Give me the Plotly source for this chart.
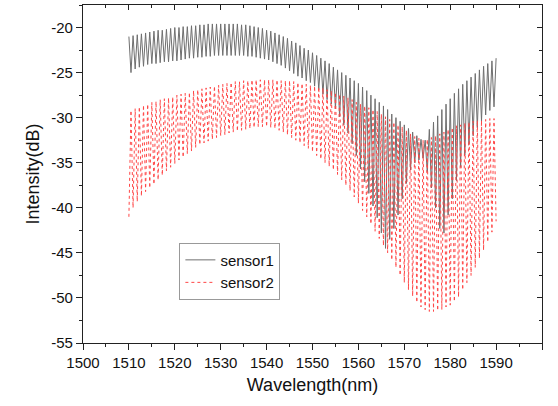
import numpy as np
import plotly.graph_objects as go

# ---------------- data ----------------
wl_start, wl_end = 1510, 1590

# sensor1: fringe maxima (89) and minima (88), alternating, starting with a maximum
s1_peaks = [
    -21.0, -20.9, -20.8, -20.7, -20.6, -20.5, -20.4, -20.3, -20.3, -20.2,
    -20.1, -20.0, -20.0, -19.9, -19.9, -19.8, -19.8, -19.7, -19.7, -19.6,
    -19.6, -19.6, -19.6, -19.6, -19.6, -19.6, -19.6, -19.7, -19.7, -19.8,
    -19.9, -20.0, -20.1, -20.3, -20.4, -20.6, -20.8, -21.0, -21.2, -21.5,
    -21.7, -22.0, -22.3, -22.5, -22.8, -23.1, -23.4, -23.7, -24.0, -24.4,
    -24.7, -25.0, -25.3, -25.6, -25.9, -26.2, -26.6, -27.0, -27.5, -27.9,
    -28.3, -28.7, -29.1, -29.6, -30.0, -30.4, -30.8, -31.2, -31.6, -32.0,
    -32.4, -32.5, -31.3, -30.5, -29.8, -29.1, -28.5, -27.9, -27.3, -26.8,
    -26.3, -25.9, -25.5, -25.1, -24.7, -24.3, -24.0, -23.7, -23.4,
]
s1_troughs = [
    -25.0, -24.6, -24.4, -24.3, -24.1, -24.0, -24.0, -23.9, -23.8, -23.8,
    -23.7, -23.7, -23.6, -23.5, -23.4, -23.4, -23.3, -23.3, -23.2, -23.2,
    -23.1, -23.1, -23.1, -23.1, -23.1, -23.1, -23.1, -23.1, -23.2, -23.2,
    -23.3, -23.4, -23.5, -23.6, -23.8, -24.0, -24.2, -24.5, -24.8, -25.1,
    -25.4, -25.6, -25.9, -26.1, -26.5, -26.9, -27.4, -28.0, -28.5, -29.0,
    -29.9, -30.8, -31.7, -32.9, -34.2, -35.7, -37.1, -38.4, -39.8, -41.1,
    -42.8, -44.5, -43.5, -42.3, -40.8, -39.0, -37.3, -35.8, -35.0, -34.7,
    -34.5, -36.0, -37.8, -40.0, -42.3, -42.8, -40.8, -39.0, -37.0, -35.5,
    -34.2, -33.0, -32.0, -31.1, -30.4, -29.7, -29.2, -28.8,
]

# sensor2: fringe minima (89) and maxima (88), alternating, starting with a minimum
s2_troughs = [
    -41.0, -40.0, -39.3, -38.7, -38.2, -37.8, -37.4, -36.9, -36.4, -35.9,
    -35.5, -35.1, -34.7, -34.4, -34.0, -33.7, -33.3, -33.0, -32.8, -32.6,
    -32.4, -32.2, -32.0, -31.9, -31.7, -31.6, -31.5, -31.4, -31.3, -31.2,
    -31.1, -31.0, -31.0, -31.0, -31.1, -31.2, -31.4, -31.6, -31.9, -32.2,
    -32.5, -32.8, -33.1, -33.4, -33.8, -34.2, -34.6, -35.0, -35.4, -35.8,
    -36.3, -36.9, -37.5, -38.1, -38.8, -39.5, -40.3, -41.0, -41.8, -42.6,
    -43.4, -44.2, -45.0, -45.8, -46.6, -47.5, -48.3, -49.1, -49.8, -50.5,
    -51.0, -51.3, -51.5, -51.5, -51.4, -51.3, -51.0, -50.8, -50.4, -49.9,
    -49.1, -48.3, -47.5, -46.6, -45.6, -44.7, -43.8, -42.7, -41.5,
]
s2_peaks = [
    -29.2, -29.0, -28.8, -28.6, -28.5, -28.3, -28.2, -28.0, -27.9, -27.8,
    -27.7, -27.5, -27.4, -27.3, -27.2, -27.0, -26.9, -26.8, -26.7, -26.6,
    -26.5, -26.4, -26.3, -26.2, -26.1, -26.0, -26.0, -25.9, -25.9, -25.8,
    -25.8, -25.8, -25.8, -25.8, -25.8, -25.8, -25.9, -25.9, -25.9, -26.0,
    -26.1, -26.2, -26.3, -26.4, -26.5, -26.6, -26.7, -26.9, -27.0, -27.2,
    -27.4, -27.6, -27.8, -28.0, -28.3, -28.5, -28.7, -28.9, -29.1, -29.3,
    -29.6, -29.9, -30.2, -30.5, -30.8, -31.0, -31.4, -31.8, -32.1, -32.3,
    -32.5, -32.4, -32.2, -32.0, -31.8, -31.6, -31.3, -31.1, -30.9, -30.8,
    -30.6, -30.5, -30.4, -30.3, -30.3, -30.2, -30.1, -30.1,
]

x_ticks = [1500, 1510, 1520, 1530, 1540, 1550, 1560, 1570, 1580, 1590, 1600]
y_ticks = [-55, -50, -45, -40, -35, -30, -25, -20]
y_labels = ["-55", "-50", "-45", "-40", "-35", "-30", "-25", "-20"]


def interleave(first, second):
    out = []
    for i in range(len(first)):
        out.append(first[i])
        if i < len(second):
            out.append(second[i])
    return out


s1_y = interleave(s1_peaks, s1_troughs)
s2_y = interleave(s2_troughs, s2_peaks)
s1_x = np.linspace(wl_start, wl_end, len(s1_y))
s2_x = np.linspace(wl_start, wl_end, len(s2_y))

# ---------------- figure ----------------
FONT = "Liberation Sans, Arial, sans-serif"
fig = go.Figure()
fig.add_trace(go.Scatter(x=s1_x, y=s1_y, mode="lines", name="sensor1",
                         line=dict(color="#6f6f6f", width=1)))
fig.add_trace(go.Scatter(x=s2_x, y=s2_y, mode="lines", name="sensor2",
                         line=dict(color="rgb(255,70,70)", width=1, dash="dot")))
# carrier for the mirrored (top/right) inward tick axes
fig.add_trace(go.Scatter(x=[1500], y=[-55], xaxis="x2", yaxis="y2", mode="markers",
                         marker=dict(opacity=0), showlegend=False, hoverinfo="skip"))

axis_common = dict(showgrid=False, zeroline=False, showline=True, linecolor="#222",
                   linewidth=1.2, tickcolor="#222")
fig.update_layout(
    width=558, height=406,
    margin=dict(l=83, r=16, t=5, b=63),
    paper_bgcolor="white", plot_bgcolor="white",
    font=dict(family=FONT, size=15, color="#111"),
    xaxis=dict(range=[1500, 1600], tickvals=x_ticks, ticks="outside", ticklen=6,
               minor=dict(dtick=5, tick0=1500, ticks="outside", ticklen=3, tickcolor="#222"),
               title=dict(text="Wavelength(nm)", font=dict(size=18), standoff=8),
               **axis_common),
    yaxis=dict(range=[-55, -17.5], tickvals=y_ticks, ticktext=y_labels, ticks="outside",
               ticklen=6,
               minor=dict(dtick=2.5, tick0=-55, ticks="outside", ticklen=3, tickcolor="#222"),
               title=dict(text="Intensity(dB)", font=dict(size=18), standoff=6),
               **axis_common),
    xaxis2=dict(range=[1500, 1600], overlaying="x", side="top", anchor="y",
                tickvals=x_ticks, ticks="inside", ticklen=5, showticklabels=False,
                minor=dict(dtick=5, tick0=1500, ticks="inside", ticklen=3, tickcolor="#222"),
                **axis_common),
    yaxis2=dict(range=[-55, -17.5], overlaying="y", side="right", anchor="x",
                tickvals=y_ticks, ticks="inside", ticklen=5, showticklabels=False,
                minor=dict(dtick=2.5, tick0=-55, ticks="inside", ticklen=3, tickcolor="#222"),
                **axis_common),
    legend=dict(x=0.21, y=0.297, xanchor="left", yanchor="top",
                bgcolor="white", bordercolor="#999", borderwidth=1,
                font=dict(size=15), tracegroupgap=0, itemwidth=30),
    showlegend=True,
)

fig.write_html("out.html")
